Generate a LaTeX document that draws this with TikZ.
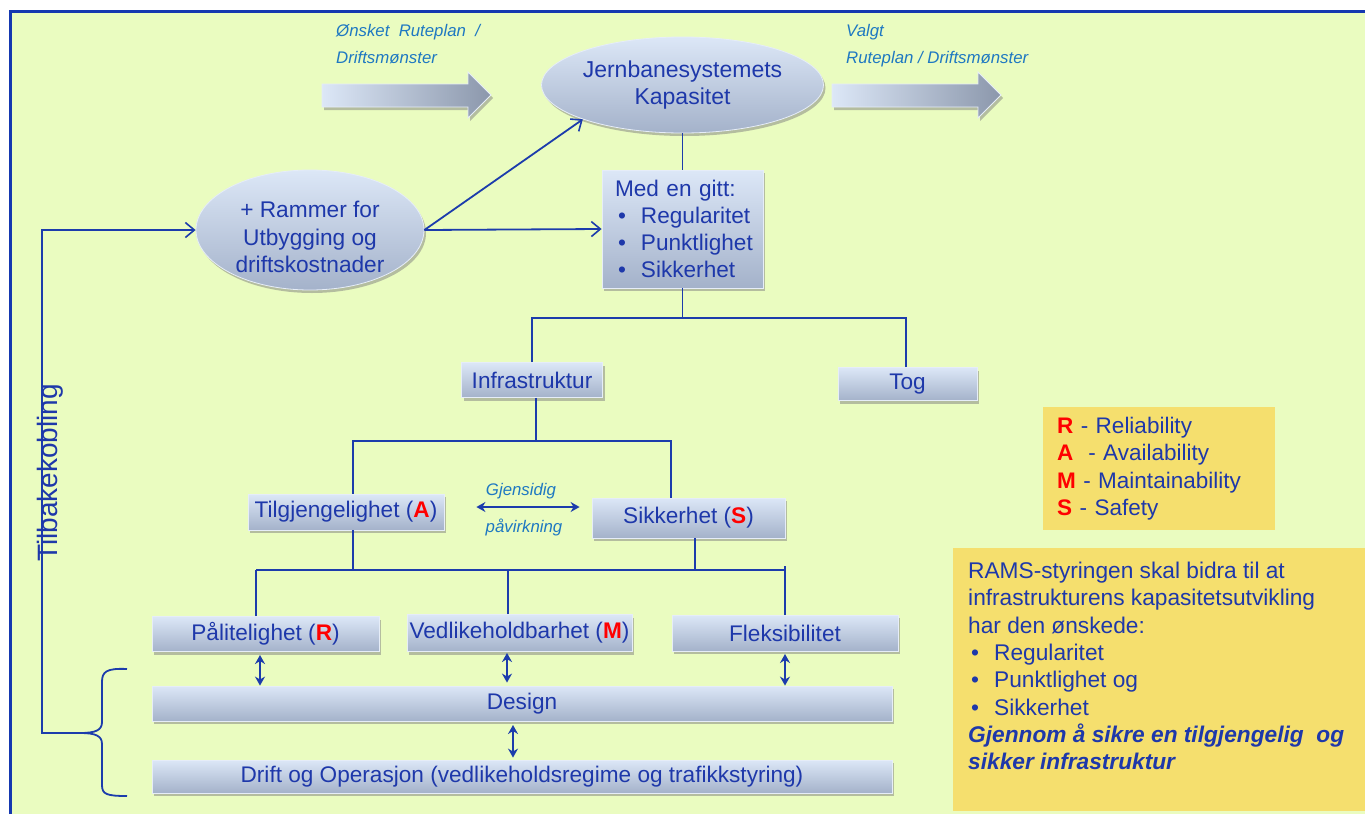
\documentclass[tikz,border=0pt]{standalone}
\usepackage{fontspec}
\setmainfont{Liberation Sans}
\usetikzlibrary{arrows.meta,shadows,shapes.geometric}
\definecolor{bg}{HTML}{EAFCC0}
\definecolor{framec}{HTML}{1538B0}
\definecolor{ln}{HTML}{1C3CAC}
\definecolor{txt}{HTML}{1E38AA}
\definecolor{itx}{HTML}{1E78C2}
\definecolor{rd}{HTML}{FF0000}
\definecolor{gold}{HTML}{F5DF6E}
\definecolor{bxtop}{HTML}{DCE7F7}
\definecolor{bxbot}{HTML}{A4B2CA}
\definecolor{bxedge}{HTML}{E6EDF8}
\newcommand{\redl}[1]{{\color{rd}\bfseries #1}}
\newcommand{\bul}{\makebox[26pt][l]{\hspace{3pt}\textbullet}}
\begin{document}
\begin{tikzpicture}[x=1pt,y=-1pt,
  box/.style={rectangle, top color=bxtop, bottom color=bxbot, draw=bxedge, line width=0.8pt,
    drop shadow={shadow xshift=2pt,shadow yshift=-3pt,opacity=0.5},
    text=txt, font=\fontsize{22.6}{27}\selectfont, inner sep=0pt},
  oval/.style={ellipse, top color=bxtop, bottom color=bxbot, draw=bxedge, line width=0.8pt,
    drop shadow={shadow xshift=2pt,shadow yshift=-3pt,opacity=0.5},
    text=txt, font=\fontsize{23}{26.5}\selectfont, inner sep=0pt, align=center},
  bigarrow/.style={left color=bxtop, right color=bxbot!85!black, draw=bxedge, line width=0.8pt,
    drop shadow={shadow xshift=2pt,shadow yshift=-3pt,opacity=0.5}},
  goldbox/.style={rectangle, fill=gold, inner sep=0pt},
  conn/.style={draw=ln, line width=1.8pt},
  tip/.style={-{Straight Barb[length=9pt,width=15pt,line width=1.6pt]}},
  dbl/.style={draw=ln, line width=1.8pt, {Stealth[length=9pt,width=10pt]}-{Stealth[length=9pt,width=10pt]}},
  ilab/.style={text=itx, font=\itshape\fontsize{16.8}{27}\selectfont, inner sep=0pt, align=left},
  plain/.style={text=txt, font=\fontsize{22.7}{27.3}\selectfont, inner sep=0pt, align=left}
]
\useasboundingbox (0,0) rectangle (1365,814);
\fill[white] (0,0) rectangle (1365,814);
\fill[bg] (10,11) rectangle (1365,814);
\draw[framec, line width=3pt] (10,814) -- (10,11) -- (1365,11);

% big arrows
\path[bigarrow] (322,84) -- (468,84) -- (468,72) -- (491,95) -- (468,118) -- (468,107) -- (322,107) -- cycle;
\path[bigarrow] (832,84) -- (978,84) -- (978,72) -- (1001,95) -- (978,118) -- (978,107) -- (832,107) -- cycle;
\node[ilab, anchor=north west] (onsk) at (336,24) {Ønsket\ \ Ruteplan\ \ /\\Driftsmønster};
\node[ilab, anchor=north west] (valgt) at (846,24) {Valgt\\Ruteplan / Driftsmønster};

% nodes
\node[oval, minimum width=227, minimum height=96] (kap) at (682.5,85) {Jernbanesystemets\\Kapasitet};
\node[oval, minimum width=228, minimum height=120] (ramme) at (310,230) {};
\node[plain, align=center, text=txt] (rammet) at (310,237) {+ Rammer for\\Utbygging og\\driftskostnader};
\node[box, minimum width=161, minimum height=118, align=left, text width=135] (gitt) at (682.5,229)
  {Med en gitt:\\ \bul Regularitet\\ \bul Punktlighet\\ \bul Sikkerhet};
\node[box, minimum width=141, minimum height=35] (infra) at (532,380) {Infrastruktur};
\node[box, minimum width=139, minimum height=33] (tog) at (907.5,384) {Tog};
\node[box, minimum width=196, minimum height=36] (tilg) at (346,512) {Tilgjengelighet (\redl{A})};
\node[box, minimum width=193, minimum height=40] (sikk) at (688.5,518) {Sikkerhet (\redl{S})};
\node[box, minimum width=227, minimum height=35] (pal) at (265.5,634) {Pålitelighet (\redl{R})};
\node[box, minimum width=225, minimum height=37] (ved) at (519.5,633) {Vedlikeholdbarhet (\redl{M})};
\node[box, minimum width=226, minimum height=36] (flek) at (785,633) {Fleksibilitet};
\node[box, minimum width=740, minimum height=35] (design) at (522,703.5) {Design};
\node[box, minimum width=740, minimum height=33] (drift) at (522,776.5) {Drift og Operasjon (vedlikeholdsregime og trafikkstyring)};

\node[ilab] (gj) at (521,491) {Gjensidig};
\node[ilab] (pv) at (524,527) {påvirkning};

% legend
\node[goldbox, minimum width=232, minimum height=123, text width=204, align=left, text=txt,
  font=\fontsize{22.5}{27.5}\selectfont] (leg) at (1159,468.5)
  {\redl{R} - Reliability\\ \redl{A}\ \ - Availability\\ \redl{M} - Maintainability\\ \redl{S} - Safety};
\node[goldbox, minimum width=412, minimum height=263, anchor=north west] (rams) at (953,548) {};
\node[plain, anchor=north west] (ramst) at (968,562)
  {RAMS-styringen skal bidra til at\\
   infrastrukturens kapasitetsutvikling\\
   har den ønskede:\\
   \bul Regularitet\\
   \bul Punktlighet og\\
   \bul Sikkerhet\\
   {\bfseries\itshape Gjennom å sikre en tilgjengelig\ \ og}\\
   {\bfseries\itshape sikker infrastruktur}};

% connectors
\draw[conn] (kap.south) -- (gitt.north);
\draw[conn, tip] (ramme.east) -- (gitt.west);
\draw[conn, tip] (ramme.east) -- (kap.199);

\coordinate (j1) at (682.5,318);
\draw[conn] (gitt.south) -- (j1);
\draw[conn] (infra.north) |- (j1);
\draw[conn] ([xshift=-1.5]tog.north) |- (j1);

\coordinate (j2) at (536,441);
\draw[conn] ([xshift=4]infra.south) -- (j2);
\draw[conn] ([xshift=7]tilg.north) |- (j2);
\draw[conn] ([xshift=-17.5]sikk.north) |- (j2);

\coordinate (j3l) at (256,570);
\coordinate (j3r) at (785,570);
\draw[conn] (j3l) -- (j3r);
\draw[conn] ([xshift=7]tilg.south) |- (j3l);
\draw[conn] ([xshift=6.5]sikk.south) |- (j3r);
\draw[conn] ([xshift=-9.5]pal.north) -- (j3l);
\draw[conn] ([xshift=-11.5]ved.north) |- (j3l);
\draw[conn] (flek.north) -- ([yshift=49]flek.north);

\draw[dbl] ([xshift=32,yshift=5]tilg.east) -- ([xshift=-12,yshift=11]sikk.west);

\coordinate (a1) at (260,655);
\coordinate (a2) at (507,653);
\coordinate (a3) at (785,654);
\coordinate (a4) at (513,725);
\draw[dbl] (a1) -- (a1 |- design.north);
\draw[dbl] (a2) -- ([yshift=3]a2 |- design.north);
\draw[dbl] (a3) -- (a3 |- design.north);
\draw[dbl] (a4) -- ([yshift=2]a4 |- drift.north);

% brace and feedback
\coordinate (cusp) at (80,733);
\draw[conn] (127,669) .. controls (106,668) and (102,672) .. (102,682) -- (102,722)
  .. controls (102,730) and (96,733) .. (cusp)
  .. controls (96,733) and (102,736) .. (102,744) -- (102,785)
  .. controls (102,794) and (106,796) .. (127,796);
\draw[conn, tip] (cusp) -- (42,733) |- (ramme.west);
\node[text=txt, font=\fontsize{28}{30}\selectfont, rotate=90, inner sep=0pt] (fb) at (50,473) {Tilbakekobling};
\end{tikzpicture}
\end{document}
